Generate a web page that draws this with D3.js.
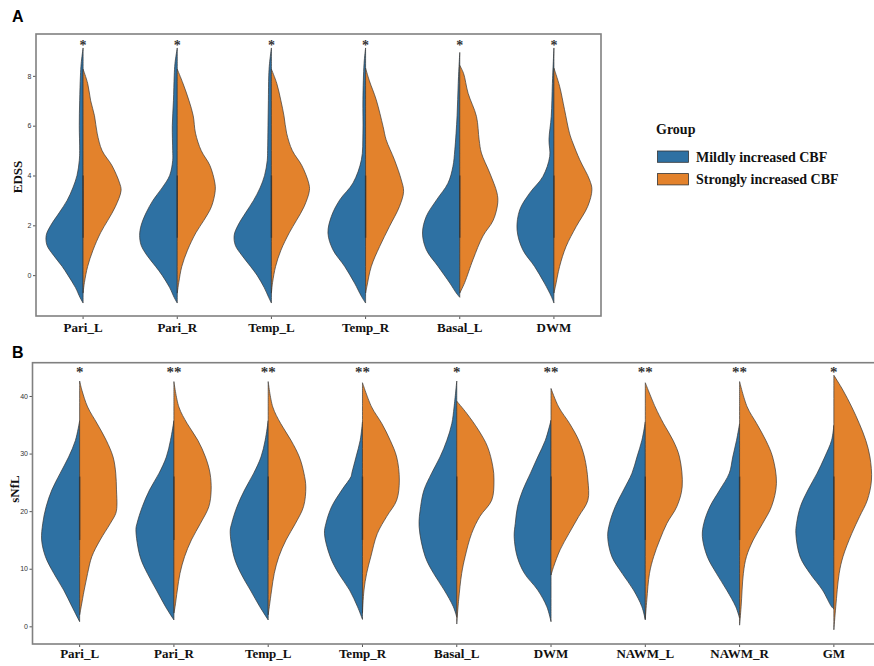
<!DOCTYPE html>
<html>
<head>
<meta charset="utf-8">
<script src="https://cdn.jsdelivr.net/npm/d3@7"></script>
<style>
body { margin: 0; background: #fff; }
svg text { font-family: "Liberation Serif", "Times New Roman", serif; }
</style>
</head>
<body>
<svg id="chart" width="874" height="666"></svg>
<script>
// groups + colours
var groups = ["Mildly increased CBF", "Strongly increased CBF"];
var groupColors = ["#2e71a3", "#e3822c"];

// panel A - EDSS
var edssRegions = ["Pari_L", "Pari_R", "Temp_L", "Temp_R", "Basal_L", "DWM"];
var edssStars = ["*", "*", "*", "*", "*", "*"];
var edssTicks = [0, 2, 4, 6, 8];
var edssQ1 = [1.5, 1.5, 1.5, 1.5, 1.5, 1.5];
var edssQ3 = [4, 4, 4, 4, 4, 4];
// density outline: [EDSS value, relative width]
var edssMild = [
  [[9.12,0],[8.5,0.05],[8,0.07],[7,0.09],[6,0.1],[5,0.09],[4.6,0.1],[4,0.16],[3.5,0.27],[3,0.42],[2.5,0.63],[2,0.85],[1.6,0.97],[1.2,0.95],[0.8,0.78],[0.35,0.55],[0,0.4],[-0.5,0.2],[-0.9,0.08],[-1.12,0]],
  [[9.12,0],[8.5,0.06],[8,0.08],[7,0.1],[6,0.13],[5,0.12],[4.6,0.12],[4,0.2],[3.5,0.4],[3,0.64],[2.5,0.82],[2,0.95],[1.6,0.99],[1.2,0.95],[0.8,0.8],[0.35,0.57],[0,0.4],[-0.5,0.2],[-0.9,0.08],[-1.12,0]],
  [[9.12,0],[8.5,0.05],[8,0.07],[7,0.08],[6,0.09],[5,0.1],[4.6,0.11],[4,0.18],[3.5,0.3],[3,0.47],[2.5,0.68],[2,0.88],[1.6,0.98],[1.2,0.95],[0.8,0.78],[0.35,0.55],[0,0.38],[-0.5,0.19],[-0.9,0.07],[-1.12,0]],
  [[9.12,0],[8.5,0.04],[7.04,0.07],[5.7,0.07],[4.63,0.11],[3.7,0.33],[3.02,0.68],[2.36,0.9],[1.69,0.99],[1.02,0.86],[0.35,0.55],[-0.32,0.29],[-0.85,0.11],[-1.12,0]],
  [[8.94,0],[7.7,0.04],[6.4,0.07],[5.03,0.13],[4.36,0.18],[3.69,0.31],[3.02,0.61],[2.36,0.88],[1.69,0.98],[1.02,0.88],[0.35,0.57],[-0.32,0.26],[-0.72,0.09],[-0.89,0]],
  [[9.12,0],[7.7,0.04],[6.38,0.07],[5.44,0.13],[4.77,0.11],[3.96,0.29],[3.29,0.64],[2.62,0.9],[1.82,0.97],[1.02,0.82],[0.35,0.51],[-0.32,0.25],[-0.85,0.07],[-1.12,0]]
];
var edssStrong = [
  [[8.27,0],[7.7,0.12],[7,0.2],[6.4,0.3],[5.7,0.37],[5,0.5],[4.4,0.76],[3.7,0.96],[3.4,1],[2.75,0.85],[2.2,0.65],[1.7,0.46],[1,0.26],[0.35,0.12],[-0.3,0.035],[-0.72,0]],
  [[8.27,0],[7.7,0.15],[7,0.31],[6.4,0.42],[5.7,0.48],[5,0.63],[4.4,0.86],[3.7,0.99],[3.4,1],[2.75,0.9],[2.2,0.7],[1.7,0.49],[1,0.27],[0.35,0.12],[-0.3,0.04],[-0.72,0]],
  [[8.27,0],[7.7,0.14],[7,0.25],[6.4,0.33],[5.7,0.4],[5,0.55],[4.4,0.8],[3.7,0.98],[3.4,1],[2.75,0.86],[2.2,0.66],[1.7,0.47],[1,0.25],[0.35,0.11],[-0.3,0.03],[-0.72,0]],
  [[8.31,0],[7.8,0.1],[7.04,0.28],[5.97,0.46],[5.44,0.54],[4.63,0.76],[3.82,0.94],[3.36,1],[2.75,0.89],[1.96,0.63],[1.15,0.37],[0.35,0.15],[-0.45,0.035],[-0.72,0]],
  [[8.42,0],[8.1,0.1],[7.3,0.22],[6.37,0.44],[5.43,0.51],[4.9,0.57],[4.1,0.79],[3.3,0.98],[2.9,1],[2.2,0.88],[1.57,0.61],[0.63,0.35],[-0.3,0.13],[-0.6,0.04],[-0.72,0]],
  [[8.31,0],[7.58,0.15],[6.64,0.28],[5.7,0.41],[5.3,0.5],[4.63,0.68],[3.82,0.94],[3.43,1],[2.76,0.89],[1.96,0.59],[1.15,0.32],[0.35,0.15],[-0.45,0.04],[-0.72,0]]
];

// panel B - sNfL
var snflRegions = ["Pari_L", "Pari_R", "Temp_L", "Temp_R", "Basal_L", "DWM", "NAWM_L", "NAWM_R", "GM"];
var snflStars = ["*", "**", "**", "**", "*", "**", "**", "**", "*"];
var snflTicks = [0, 10, 20, 30, 40];
var snflQ1 = [15, 15, 15, 15, 15, 15, 15, 15, 15];
var snflQ3 = [26, 26, 26, 26, 26, 26, 26, 26, 26];
var snflMild = [
  [[35.7,0],[32.3,0.11],[29.4,0.29],[26.6,0.51],[23.7,0.73],[20.8,0.88],[17.9,0.97],[15,1],[12.1,0.9],[9.2,0.68],[6.3,0.42],[3.4,0.2],[0.8,0]],
  [[35.7,0],[32.3,0.09],[29.4,0.2],[26.6,0.39],[23.7,0.64],[20.8,0.83],[17.9,0.97],[16.8,1],[12.1,0.89],[9.2,0.7],[6.3,0.46],[3.4,0.22],[1.1,0]],
  [[35.7,0],[32.3,0.08],[29.4,0.19],[26.6,0.38],[23.7,0.62],[20.8,0.82],[17.9,0.96],[16.5,1],[12.1,0.9],[9.2,0.72],[6.3,0.47],[3.4,0.22],[1.1,0]],
  [[35.5,0],[32.3,0.06],[29.4,0.17],[26.6,0.28],[26,0.3],[23.7,0.54],[20.8,0.81],[17.9,0.96],[16.1,1],[12.1,0.85],[9.2,0.63],[6.3,0.34],[3.4,0.13],[1.2,0]],
  [[42.6,0],[38.1,0.07],[35.2,0.13],[32.3,0.26],[29.4,0.44],[26.6,0.66],[23.7,0.86],[20.8,0.95],[17.3,0.99],[12.1,0.83],[9.2,0.61],[6.3,0.33],[3.4,0.09],[1.6,0]],
  [[35.8,0],[32.3,0.15],[29.4,0.35],[26.6,0.54],[23.7,0.74],[20.8,0.88],[17.9,0.94],[15.6,0.97],[12.1,0.89],[9.2,0.7],[6.3,0.35],[3.4,0.11],[0.8,0]],
  [[35.5,0],[32.3,0.09],[29.4,0.22],[26.6,0.35],[23.7,0.57],[20.8,0.79],[17.9,0.94],[15.6,0.99],[12.1,0.88],[9.2,0.61],[6.3,0.31],[3.4,0.09],[1.1,0]],
  [[35.2,0],[32.3,0.08],[29.4,0.18],[26.6,0.27],[23.7,0.52],[20.8,0.78],[17.9,0.94],[15.6,0.98],[12.1,0.85],[9.2,0.61],[6.3,0.34],[3.4,0.1],[1.4,0]],
  [[34.9,0],[32.3,0.06],[29.4,0.24],[26.6,0.44],[23.7,0.68],[20.8,0.88],[17.9,0.98],[16.1,1],[12.1,0.89],[9.2,0.63],[6.3,0.3],[3.4,0.06],[3.0,0]]
];
var snflStrong = [
  [[42.6,0],[41,0.06],[38.1,0.21],[35.2,0.46],[32.3,0.7],[29.4,0.88],[26.6,0.95],[23.7,0.97],[20.8,0.98],[19.6,0.95],[17.9,0.81],[15,0.54],[12.1,0.32],[9.2,0.21],[6.3,0.12],[3.4,0.04],[2,0]],
  [[42.5,0],[38.1,0.13],[35.2,0.35],[32.3,0.63],[29.4,0.83],[26.6,0.95],[23.7,0.98],[20.8,0.92],[17.9,0.7],[15,0.46],[12.1,0.28],[9.2,0.16],[6.3,0.09],[3.4,0.03],[2.3,0]],
  [[42.5,0],[38.1,0.12],[35.2,0.33],[32.3,0.6],[29.4,0.82],[26.6,0.94],[24.2,0.99],[20.8,0.93],[17.9,0.72],[15,0.47],[12.1,0.28],[9.2,0.16],[6.3,0.09],[3.4,0.03],[2,0]],
  [[42.3,0],[38.1,0.24],[35.2,0.51],[32.3,0.73],[29.4,0.9],[25.4,0.97],[21.9,0.9],[19.1,0.64],[16.1,0.39],[12.1,0.22],[9.2,0.11],[6.3,0.04],[2.3,0]],
  [[39.1,0],[37,0.26],[34.1,0.57],[31.2,0.81],[27.7,0.95],[25.4,0.98],[21.9,0.92],[19.1,0.61],[16.1,0.39],[12.1,0.22],[9.2,0.13],[4.6,0.05],[0.4,0]],
  [[41.3,0],[38.1,0.2],[35.2,0.49],[32.3,0.73],[29.4,0.88],[25.4,0.97],[21.9,0.97],[19.1,0.73],[16.1,0.47],[13.3,0.24],[10.4,0.07],[8.9,0]],
  [[42.3,0],[38.1,0.26],[35.2,0.48],[32.3,0.73],[29.4,0.9],[24.2,0.97],[20.8,0.83],[17.9,0.57],[15,0.38],[12.1,0.22],[9.2,0.11],[4.6,0.04],[1.3,0]],
  [[42.5,0],[38.1,0.2],[35.2,0.45],[32.3,0.69],[29.4,0.87],[24.8,0.97],[20.8,0.84],[17.9,0.61],[15,0.36],[12.1,0.18],[9.2,0.1],[3.4,0.04],[0.2,0]],
  [[43.6,0],[41,0.24],[38.1,0.47],[35.2,0.67],[32.3,0.84],[29.4,0.95],[25.4,0.99],[21.9,0.88],[19.1,0.68],[16.1,0.47],[12.1,0.24],[9.2,0.14],[3.4,0.05],[-0.6,0]]
];

var svg = d3.select("#chart");
var halfWidth = d3.scaleLinear().domain([0, 1]).range([0, 38]);

// draws one panel of split violins
var drawPanel = function(p){
  var g = svg.append("g");
  var x = d3.scaleBand().domain(p.regions).range([p.left, p.right]).padding(0);
  var y = d3.scaleLinear().domain(p.domain).range([p.bottom, p.top]);

  // y axis
  var yAxis = g.append("g")
    .attr("transform", "translate(" + p.left + ",0)")
    .call(d3.axisLeft(y).tickValues(p.ticks).tickSize(3).tickPadding(1.5));
  yAxis.select(".domain").remove();
  yAxis.selectAll("line").attr("stroke", "#555");
  yAxis.selectAll("text")
    .style("font-family", "'Liberation Sans', Arial, sans-serif")
    .style("font-size", "7px").attr("fill", "#333");

  // x axis
  var xAxis = g.append("g")
    .attr("transform", "translate(0," + p.bottom + ")")
    .call(d3.axisBottom(x).tickSize(3).tickPadding(p.xPad));
  xAxis.select(".domain").remove();
  xAxis.selectAll("line").attr("stroke", "#555");
  xAxis.selectAll("text")
    .style("font-family", "'Liberation Serif', 'Times New Roman', serif")
    .style("font-size", "13px").style("font-weight", "bold").attr("fill", "#111");

  var left = d3.area().curve(d3.curveCatmullRom)
    .y(function(d){ return y(d[0]); })
    .x0(function(d){ return 0; })
    .x1(function(d){ return -halfWidth(d[1]); });
  var right = d3.area().curve(d3.curveCatmullRom)
    .y(function(d){ return y(d[0]); })
    .x0(function(d){ return 0; })
    .x1(function(d){ return halfWidth(d[1]); });

  var v = g.selectAll(".violin").data(p.regions).enter().append("g")
    .attr("class", "violin")
    .attr("transform", function(d){ return "translate(" + (x(d) + x.bandwidth() / 2) + ",0)"; });
  v.append("path")
    .attr("d", function(d, i){ return left(p.mild[i]); })
    .attr("fill", groupColors[0]).attr("stroke", "#333").attr("stroke-width", 0.7);
  v.append("path")
    .attr("d", function(d, i){ return right(p.strong[i]); })
    .attr("fill", groupColors[1]).attr("stroke", "#3a3a3a").attr("stroke-width", 0.7);
  v.append("line")
    .attr("x1", 0).attr("x2", 0)
    .attr("y1", function(d, i){ return y(p.q1[i]); })
    .attr("y2", function(d, i){ return y(p.q3[i]); })
    .attr("stroke", "#333").attr("stroke-width", 1.4).attr("opacity", 0.8);
  v.append("text")
    .attr("x", 0).attr("y", p.starY)
    .attr("text-anchor", "middle")
    .style("font-size", p.starSize + "px").style("font-weight", "bold")
    .attr("fill", "#333")
    .text(function(d, i){ return p.stars[i]; });

  // border
  g.append("rect")
    .attr("x", p.left).attr("y", p.top)
    .attr("width", p.right - p.left).attr("height", p.bottom - p.top)
    .attr("fill", "none").attr("stroke", "#808080").attr("stroke-width", 1.6);

  // y title
  g.append("text")
    .attr("transform", "translate(" + p.titleX + "," + p.titleY + ") rotate(-90)")
    .attr("text-anchor", "middle")
    .style("font-size", "13px").style("font-weight", "bold").attr("fill", "#111")
    .text(p.title);

  // panel letter
  svg.append("text")
    .attr("x", 12).attr("y", p.letterY)
    .style("font-family", "'Liberation Sans', Arial, sans-serif")
    .style("font-size", "16px").style("font-weight", "bold")
    .text(p.letter);
};

drawPanel({
  regions: edssRegions, mild: edssMild, strong: edssStrong, q1: edssQ1, q3: edssQ3,
  stars: edssStars, ticks: edssTicks, domain: [-1.64, 9.68],
  left: 36, right: 601, top: 34, bottom: 316, xPad: 3.5,
  starY: 50, starSize: 14, title: "EDSS", titleX: 22, titleY: 177, letter: "A", letterY: 22
});
drawPanel({
  regions: snflRegions, mild: snflMild, strong: snflStrong, q1: snflQ1, q3: snflQ3,
  stars: snflStars, ticks: snflTicks, domain: [-3.07, 45.78],
  left: 32.5, right: 881, top: 362.7, bottom: 644, xPad: 2.2,
  starY: 377, starSize: 15, title: "sNfL", titleX: 19, titleY: 489, letter: "B", letterY: 358
});

// legend
var legend = svg.append("g").attr("transform", "translate(656,0)");
legend.append("text")
  .attr("x", 0).attr("y", 134)
  .style("font-size", "14px").style("font-weight", "bold").attr("fill", "#111")
  .text("Group");
var item = legend.selectAll(".item").data(groups).enter().append("g")
  .attr("class", "item")
  .attr("transform", function(d, i){ return "translate(0," + (151 + i * 22.6) + ")"; });
item.append("rect")
  .attr("x", 1.5).attr("y", 0).attr("width", 31).attr("height", 11.3)
  .attr("fill", function(d, i){ return groupColors[i]; })
  .attr("stroke", "#333").attr("stroke-width", 0.8);
item.append("text")
  .attr("x", 40).attr("y", 10.5)
  .style("font-size", "14px").style("font-weight", "bold").attr("fill", "#111")
  .text(function(d){ return d; });
</script>
</body>
</html>
